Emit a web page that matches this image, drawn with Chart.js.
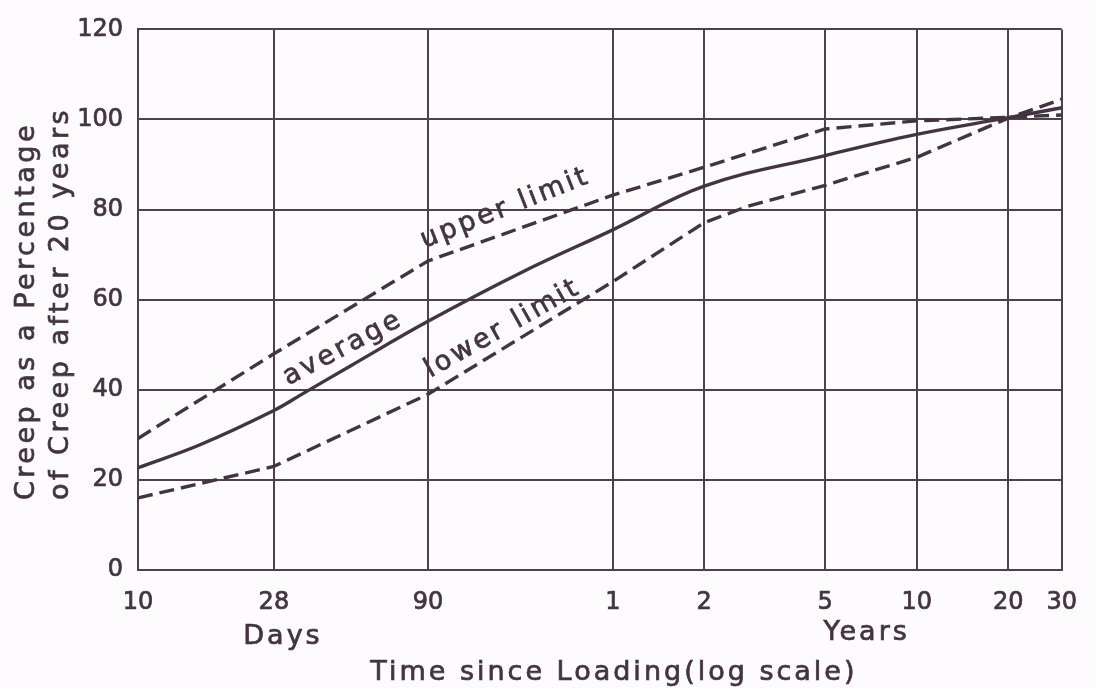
<!DOCTYPE html>
<html>
<head>
<meta charset="utf-8">
<title>Creep vs time since loading</title>
<script src="https://cdn.jsdelivr.net/npm/chart.js@4/dist/chart.umd.min.js"></script>
<style>
  html, body { margin: 0; padding: 0; background: #fdfbfd; }
  #wrap { width: 1095px; height: 688px; }
</style>
</head>
<body>
<div id="wrap"><canvas id="chart" width="1095" height="688"></canvas></div>
<script>
// Time since loading, in days (log axis); tick labels switch from days to years after 90
const tickDays   = [10, 28, 90, 365, 730, 1826, 3652, 7305, 10957];
const tickLabels = ['10', '28', '90', '1', '2', '5', '10', '20', '30'];
const yTickValues = [0, 20, 40, 60, 80, 100, 120];

// Creep as a percentage of creep after 20 years
const upperDays = [10, 28, 90, 365, 730, 1826, 3652, 7305, 10957];
const upperPct  = [29.2, 48, 68.6, 83.2, 89.4, 97.9, 99.7, 100.5, 101];

const averageDays = [10, 16, 28, 35, 50, 90, 182, 365, 730, 1826, 3652, 7305, 10957];
const averagePct  = [22.7, 27.8, 35.4, 39.2, 45.3, 55.2, 66, 75.5, 85.2, 92, 96.7, 100.4, 102.6];

const lowerDays = [10, 28, 90, 365, 730, 1011, 1826, 3652, 7305, 10957];
const lowerPct  = [16, 23, 39, 64, 77.1, 80.7, 85.4, 91.6, 100.3, 104.5];

const curveNames = ['upper limit', 'average', 'lower limit'];

const INK = '#433441';
const GRID = '#4f404e';
const FONT = '"DejaVu Sans", "Open Sans", sans-serif';

const toPoints = (xs, ys) => xs.map((d, i) => ({ x: d, y: ys[i] }));

// Where each curve name sits (in data units) and its slant along the curve
const curveLabelPlacement = [
  { at: [165, 78.8], angle: -21.5 },
  { at: [48.5, 47.8], angle: -28 },
  { at: [163, 52.2], angle: -29.5 }
];

// draws text with a hairline outline so the lettering reads as heavy as pen strokes
function inkText(ctx, text, x, y) {
  ctx.fillText(text, x, y);
  ctx.strokeText(text, x, y);
}

const lettering = {
  id: 'lettering',
  beforeDraw(chart) {
    const { ctx, width, height } = chart;
    ctx.save();
    ctx.fillStyle = '#fdfbfd';
    ctx.fillRect(0, 0, width, height);
    ctx.restore();
  },
  afterDraw(chart) {
    const { ctx, chartArea, scales: { x, y } } = chart;
    ctx.save();
    ctx.fillStyle = INK;
    ctx.strokeStyle = INK;
    ctx.lineWidth = 0.7;
    ctx.font = '27px ' + FONT;
    ctx.letterSpacing = '3px';
    ctx.textBaseline = 'alphabetic';

    // curve names along the lines
    curveNames.forEach((name, i) => {
      const p = curveLabelPlacement[i];
      ctx.save();
      ctx.translate(x.getPixelForValue(p.at[0]), y.getPixelForValue(p.at[1]));
      ctx.rotate(p.angle * Math.PI / 180);
      ctx.textAlign = 'center';
      inkText(ctx, name, 0, 0);
      ctx.restore();
    });

    // unit words under the tick labels
    ctx.textAlign = 'center';
    inkText(ctx, 'Days', x.getPixelForValue(30), chartArea.bottom + 74);
    inkText(ctx, 'Years', x.getPixelForValue(2500), chartArea.bottom + 70);

    // x axis title
    inkText(ctx, 'Time since Loading(log scale)', (chartArea.left + chartArea.right) / 2 + 14, 680);

    // y axis title, two lines reading upward
    ctx.letterSpacing = '3.5px';
    ctx.save();
    ctx.translate(0, 500);
    ctx.rotate(-Math.PI / 2);
    ctx.textAlign = 'left';
    inkText(ctx, 'Creep as a Percentage', 0, 34);
    inkText(ctx, 'of Creep after 20 years', 0, 68);
    ctx.restore();

    ctx.restore();
  }
};

const lineStyle = {
  borderColor: INK,
  borderWidth: 3.4,
  pointRadius: 0,
  fill: false
};

const tickFont = { family: FONT, size: 24 };

new Chart(document.getElementById('chart'), {
  type: 'line',
  data: {
    datasets: [
      Object.assign({ label: curveNames[0], data: toPoints(upperDays, upperPct), borderDash: [15, 7], tension: 0 }, lineStyle),
      Object.assign({ label: curveNames[1], data: toPoints(averageDays, averagePct), tension: 0.4 }, lineStyle),
      Object.assign({ label: curveNames[2], data: toPoints(lowerDays, lowerPct), borderDash: [15, 7], tension: 0 }, lineStyle)
    ]
  },
  options: {
    responsive: false,
    animation: false,
    layout: { padding: { left: 0, right: 33, top: 17, bottom: 0 } },
    plugins: {
      legend: { display: false },
      tooltip: { enabled: false }
    },
    scales: {
      x: {
        type: 'logarithmic',
        min: tickDays[0],
        max: tickDays[tickDays.length - 1],
        afterBuildTicks: s => { s.ticks = tickDays.map(v => ({ value: v })); },
        afterFit: s => { s.height = 118; },
        ticks: {
          autoSkip: false,
          maxRotation: 0,
          padding: 18,
          color: INK,
          textStrokeColor: INK,
          textStrokeWidth: 0.7,
          font: tickFont,
          callback: (v, i) => tickLabels[i]
        },
        grid: { color: GRID, lineWidth: 2, drawTicks: false },
        border: { color: GRID, width: 2 }
      },
      y: {
        min: 0,
        max: 120,
        afterBuildTicks: s => { s.ticks = yTickValues.map(v => ({ value: v })); },
        afterFit: s => { s.width = 138; },
        ticks: {
          padding: 15,
          color: INK,
          textStrokeColor: INK,
          textStrokeWidth: 0.7,
          font: tickFont
        },
        grid: { color: GRID, lineWidth: 2, drawTicks: false },
        border: { color: GRID, width: 2 }
      }
    }
  },
  plugins: [lettering]
});
</script>
</body>
</html>
